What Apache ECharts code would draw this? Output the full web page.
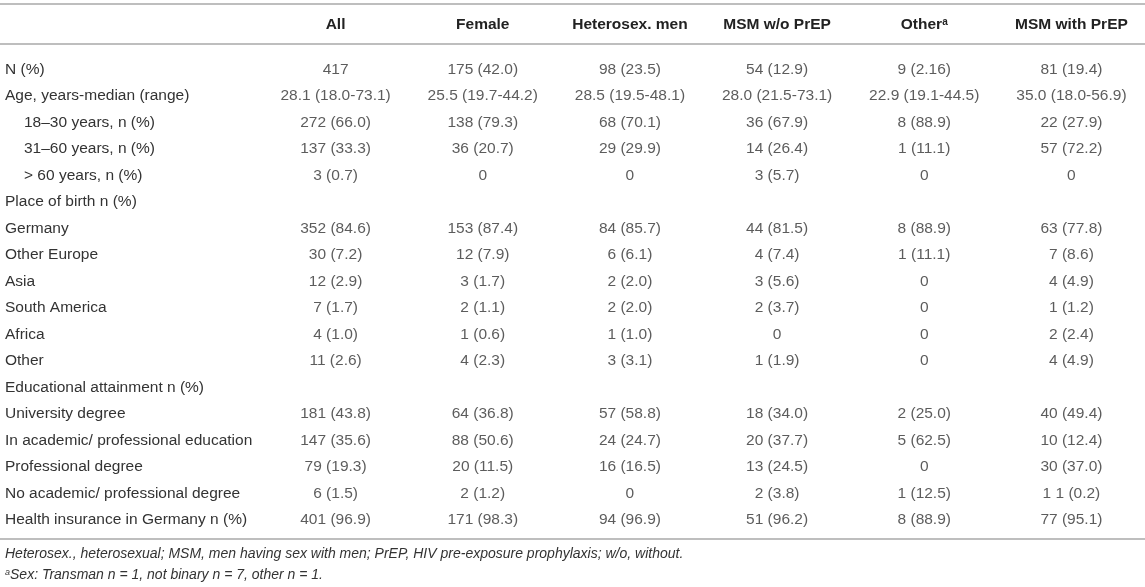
<!DOCTYPE html>
<html>
<head>
<meta charset="utf-8">
<script src="https://cdn.jsdelivr.net/npm/echarts@6/dist/echarts.min.js"></script>
<style>
  html, body { margin: 0; padding: 0; background: #fff; }
  #container { width: 1145px; height: 587px; }
</style>
</head>
<body>
<div id="container"></div>
<script>
var headers = ['All', 'Female', 'Heterosex. men', 'MSM w/o PrEP', 'Other{sup|a}', 'MSM with PrEP'];

var rowLabels = [
    'N (%)',
    'Age, years-median (range)',
    '18–30 years, n (%)',
    '31–60 years, n (%)',
    '> 60 years, n (%)',
    'Place of birth n (%)',
    'Germany',
    'Other Europe',
    'Asia',
    'South America',
    'Africa',
    'Other',
    'Educational attainment n (%)',
    'University degree',
    'In academic/ professional education',
    'Professional degree',
    'No academic/ professional degree',
    'Health insurance in Germany n (%)'
];

var colAll = ['417', '28.1 (18.0-73.1)', '272 (66.0)', '137 (33.3)', '3 (0.7)', '',
    '352 (84.6)', '30 (7.2)', '12 (2.9)', '7 (1.7)', '4 (1.0)', '11 (2.6)', '',
    '181 (43.8)', '147 (35.6)', '79 (19.3)', '6 (1.5)', '401 (96.9)'];
var colFemale = ['175 (42.0)', '25.5 (19.7-44.2)', '138 (79.3)', '36 (20.7)', '0', '',
    '153 (87.4)', '12 (7.9)', '3 (1.7)', '2 (1.1)', '1 (0.6)', '4 (2.3)', '',
    '64 (36.8)', '88 (50.6)', '20 (11.5)', '2 (1.2)', '171 (98.3)'];
var colHetero = ['98 (23.5)', '28.5 (19.5-48.1)', '68 (70.1)', '29 (29.9)', '0', '',
    '84 (85.7)', '6 (6.1)', '2 (2.0)', '2 (2.0)', '1 (1.0)', '3 (3.1)', '',
    '57 (58.8)', '24 (24.7)', '16 (16.5)', '0', '94 (96.9)'];
var colMsmNoPrep = ['54 (12.9)', '28.0 (21.5-73.1)', '36 (67.9)', '14 (26.4)', '3 (5.7)', '',
    '44 (81.5)', '4 (7.4)', '3 (5.6)', '2 (3.7)', '0', '1 (1.9)', '',
    '18 (34.0)', '20 (37.7)', '13 (24.5)', '2 (3.8)', '51 (96.2)'];
var colOther = ['9 (2.16)', '22.9 (19.1-44.5)', '8 (88.9)', '1 (11.1)', '0', '',
    '8 (88.9)', '1 (11.1)', '0', '0', '0', '0', '',
    '2 (25.0)', '5 (62.5)', '0', '1 (12.5)', '8 (88.9)'];
var colMsmPrep = ['81 (19.4)', '35.0 (18.0-56.9)', '22 (27.9)', '57 (72.2)', '0', '',
    '63 (77.8)', '7 (8.6)', '4 (4.9)', '1 (1.2)', '2 (2.4)', '4 (4.9)', '',
    '40 (49.4)', '10 (12.4)', '30 (37.0)', '1 1 (0.2)', '77 (95.1)'];

var columns = [colAll, colFemale, colHetero, colMsmNoPrep, colOther, colMsmPrep];

var footnote1 = 'Heterosex., heterosexual; MSM, men having sex with men; PrEP, HIV pre-exposure prophylaxis; w/o, without.';
var footnote2 = '{sup|a}Sex: Transman n = 1, not binary n = 7, other n = 1.';

var textColor = '#333';
var ruleColor = '#a8a8a8';
var font = 'Liberation Sans, Arial, Helvetica, sans-serif';

var cells = [];
columns.forEach(function (col, c) {
    col.forEach(function (txt, r) {
        if (txt !== '') {
            cells.push({ value: [c, r], txt: txt });
        }
    });
});

var chart = echarts.init(document.getElementById('container'), null, { renderer: 'canvas' });

var option = {
    backgroundColor: '#fff',
    animation: false,
    textStyle: { fontFamily: font },
    // columns are ~149px wide, last one runs past the right edge like the original
    grid: { left: 262, width: 894, top: 56, bottom: 54 },
    xAxis: {
        type: 'category',
        position: 'top',
        data: headers,
        axisLine: { show: false },
        axisTick: { show: false },
        splitLine: { show: false },
        axisLabel: {
            interval: 0,
            margin: 23,
            color: '#222',
            fontSize: 15.5,
            fontWeight: 'bold',
            fontFamily: font,
            rich: {
                sup: { fontSize: 10, verticalAlign: 'top', color: '#222', fontFamily: font }
            }
        }
    },
    yAxis: {
        type: 'category',
        inverse: true,
        data: rowLabels,
        axisLine: { show: false },
        axisTick: { show: false },
        splitLine: { show: false },
        axisLabel: {
            interval: 0,
            align: 'left',
            margin: 257,
            color: textColor,
            fontSize: 15.5,
            fontFamily: font,
            formatter: function (v) {
                // age sub-rows are indented
                return /^[\d>]/.test(v) ? '{ind|' + v + '}' : v;
            },
            rich: {
                ind: { padding: [0, 0, 0, 19], fontSize: 15.5, color: textColor, fontFamily: font }
            }
        }
    },
    series: [{
        type: 'scatter',
        symbolSize: 0,
        silent: true,
        data: cells,
        label: {
            show: true,
            position: 'inside',
            color: textColor,
            fontSize: 15.5,
            fontFamily: font,
            formatter: function (p) { return p.data.txt; }
        }
    }],
    graphic: [
        { type: 'line', shape: { x1: 0, y1: 4, x2: 1145, y2: 4 }, style: { stroke: ruleColor, lineWidth: 1.5 } },
        { type: 'line', shape: { x1: 0, y1: 44, x2: 1145, y2: 44 }, style: { stroke: ruleColor, lineWidth: 1.5 } },
        { type: 'line', shape: { x1: 0, y1: 539, x2: 1145, y2: 539 }, style: { stroke: ruleColor, lineWidth: 1.5 } },
        {
            type: 'text', left: 5, top: 547,
            style: { text: footnote1, fill: textColor, font: 'italic 14px ' + font }
        },
        {
            type: 'text', left: 5, top: 568,
            style: {
                text: footnote2, fill: textColor, font: 'italic 14px ' + font,
                rich: { sup: { fontSize: 9, verticalAlign: 'top', fontStyle: 'italic', fill: textColor } }
            }
        }
    ]
};

chart.setOption(option);
</script>
</body>
</html>
